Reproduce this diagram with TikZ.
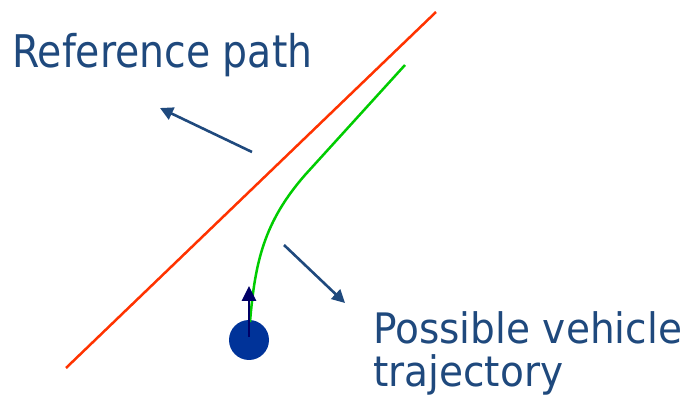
\documentclass[tikz,border=0pt]{standalone}
\usepackage{fontspec}
\setmainfont{DejaVu Sans}
\usetikzlibrary{arrows.meta}
\definecolor{txtblue}{RGB}{31,73,125}
\definecolor{carblue}{RGB}{0,51,153}
\definecolor{headnavy}{RGB}{0,0,102}
\definecolor{refred}{RGB}{255,51,0}
\definecolor{trajgreen}{RGB}{0,204,0}
\tikzset{
  lbl/.style={inner sep=0pt, anchor=base west, text=txtblue},
  pointer/.style={draw=txtblue, line width=2.6pt, -{Triangle[length=13pt,width=13pt]}},
}
\begin{document}
\begin{tikzpicture}[x=1pt,y=-1pt]
\useasboundingbox (0,0) rectangle (689,406);
% reference path
\coordinate (r1) at (66,368);
\coordinate (r2) at (436,12);
\draw[refred, line width=2.5pt] (r1) -- (r2);
% vehicle
\node[circle, fill=carblue, minimum size=40pt, inner sep=0pt] (car) at (249,340) {};
\coordinate (g0) at (250,322);
\coordinate (g1) at (305,175);
\coordinate (g2) at (405,65);
\draw[trajgreen, line width=2.5pt] (g0) .. controls (255,262) and (264,222) .. (g1) -- (g2);
\coordinate (h0) at (249,337);
\coordinate (h1) at (249,286);
\draw[headnavy, line width=2.6pt, -{Triangle[length=15pt,width=14pt]}] (h0) -- (h1);
% labels
\node[lbl, xscale=0.875, font=\fontsize{45}{50}\selectfont] (reflbl) at (12,68) {Reference path};
\node[lbl, xscale=0.93, align=left, font=\fontsize{42}{43.5}\selectfont] (vehlbl) at (373,387) {Possible vehicle\\trajectory};
% pointers
\coordinate (a1s) at (252,152);
\coordinate (a1e) at (160,108);
\draw[pointer] (a1s) -- (a1e);
\coordinate (a2s) at (284,245);
\coordinate (a2e) at (345,303);
\draw[pointer] (a2s) -- (a2e);
\end{tikzpicture}
\end{document}
